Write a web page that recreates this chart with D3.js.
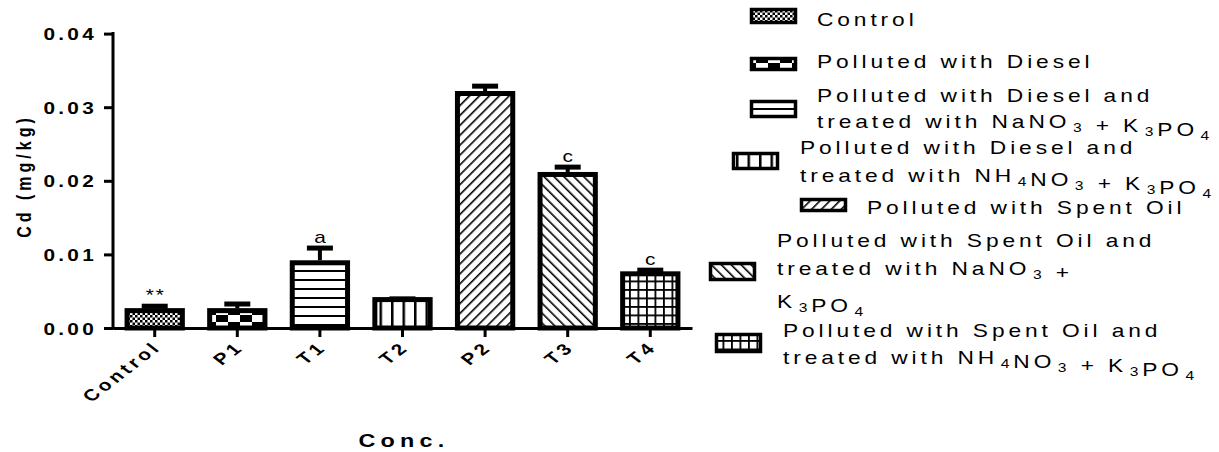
<!DOCTYPE html>
<html>
<head>
<meta charset="utf-8">
<script src="https://cdn.jsdelivr.net/npm/d3@7"></script>
<style>
body { margin: 0; background: #fff; }
text { font-family: "Liberation Sans", Arial, sans-serif; fill: #000; }
</style>
</head>
<body>
<svg id="chart" width="1219" height="452"></svg>
<script>
// data
var categories = ["Control", "P1", "T1", "T2", "P2", "T3", "T4"];
var means = [0.0027, 0.0027, 0.0092, 0.0042, 0.0322, 0.0212, 0.0077];
var errs = [0.0006, 0.0009, 0.0020, 0.0001, 0.0010, 0.0010, 0.0005];
var letters = ["**", "", "a", "", "", "c", "c"];
var yTicks = [0, 0.01, 0.02, 0.03, 0.04];
var patterns = ["pControl", "pP1", "pT1", "pT2", "pP2", "pT3", "pT4"];
// "_n" marks a subscript
var legendText = [
    ["Control"],
    ["Polluted with Diesel"],
    ["Polluted with Diesel and", "treated with NaNO_3 + K_3PO_4"],
    ["Polluted with Diesel and", "treated with NH_4NO_3 + K_3PO_4"],
    ["Polluted with Spent Oil"],
    ["Polluted with Spent Oil and", "treated with NaNO_3 +", "K_3PO_4"],
    ["Polluted with Spent Oil and", "treated with NH_4NO_3 + K_3PO_4"]
];

// legend placement (the exported legend is not regular)
var legendPos = [
    {x: 750, y: 8,   h: 16, tx: 817, base: [26]},
    {x: 750, y: 57,  h: 14, tx: 817, base: [68]},
    {x: 750, y: 100, h: 18, tx: 817, base: [102, 128]},
    {x: 732, y: 152, h: 18, tx: 800, base: [154, 182]},
    {x: 800, y: 198, h: 14, tx: 867, base: [214]},
    {x: 709, y: 262, h: 19, tx: 777, base: [247, 275, 308]},
    {x: 715, y: 333, h: 20, tx: 783, base: [337, 364]}
];

var SX = 1.3; // the original export is stretched sideways

var svg = d3.select('#chart');

var x = d3.scaleBand()
    .domain(categories)
    .range([113, 692])
    .paddingInner(0.27)
    .paddingOuter(0.14);

var y = d3.scaleLinear()
    .domain([0, 0.04])
    .range([328, 33.6]);

// fill patterns
var defs = svg.append('defs');

function pat(id, w, h) {
    var p = defs.append('pattern')
        .attr('id', id)
        .attr('patternUnits', 'userSpaceOnUse')
        .attr('width', w)
        .attr('height', h);
    p.append('rect').attr('width', w).attr('height', h).attr('fill', '#fff');
    return p;
}

function blk(p, bx, by, w, h) {
    p.append('rect').attr('x', bx).attr('y', by).attr('width', w).attr('height', h).attr('fill', '#000');
}

var p = pat('pControl', 5, 5);
blk(p, 0, 0, 2.5, 2.5);
blk(p, 2.5, 2.5, 2.5, 2.5);

p = pat('pP1', 24, 14);
blk(p, 12, 0, 12, 7);
blk(p, 0, 7, 12, 7);

p = pat('pT1', 10, 9);
blk(p, 0, 0, 10, 2);

p = pat('pT2', 11.5, 10);
blk(p, 0, 0, 2.5, 10);

p = pat('pP2', 7, 7).attr('patternTransform', 'rotate(45)');
blk(p, 0, 0, 1.6, 7);

p = pat('pT3', 7, 7).attr('patternTransform', 'rotate(-45)');
blk(p, 0, 0, 1.6, 7);

p = pat('pT4', 8.5, 8.5);
blk(p, 0, 0, 8.5, 1.8);
blk(p, 0, 0, 1.8, 8.5);

// helper for the stretched text
function stretch(tx, ty, rot) {
    return 'translate(' + tx + ',' + ty + ') scale(' + SX + ',1)' + (rot ? ' rotate(' + rot + ')' : '');
}

// bars
var bw = x.bandwidth();
svg.selectAll('rect.bar')
    .data(categories)
    .enter()
    .append('rect')
    .attr('class', 'bar')
    .attr('x', function(d) { return x(d) + 2.5; })
    .attr('y', function(d, i) { return y(means[i]) + 2.5; })
    .attr('width', bw - 5)
    .attr('height', function(d, i) { return y(0) - y(means[i]) - 2.5; })
    .attr('fill', function(d, i) { return 'url(#' + patterns[i] + ')'; })
    .attr('stroke', '#000')
    .attr('stroke-width', 5);

// error bars, upper side only
var eb = svg.selectAll('g.err')
    .data(categories)
    .enter()
    .append('g')
    .attr('class', 'err');

eb.append('line')
    .attr('x1', function(d) { return x(d) + bw / 2; })
    .attr('x2', function(d) { return x(d) + bw / 2; })
    .attr('y1', function(d, i) { return y(means[i]); })
    .attr('y2', function(d, i) { return y(means[i] + errs[i]) + 2; })
    .attr('stroke', '#000')
    .attr('stroke-width', 4);

eb.append('line')
    .attr('x1', function(d) { return x(d) + bw / 2 - 13; })
    .attr('x2', function(d) { return x(d) + bw / 2 + 13; })
    .attr('y1', function(d, i) { return y(means[i] + errs[i]) + 2.5; })
    .attr('y2', function(d, i) { return y(means[i] + errs[i]) + 2.5; })
    .attr('stroke', '#000')
    .attr('stroke-width', 5);

// significance letters
svg.selectAll('text.sig')
    .data(categories)
    .enter()
    .append('text')
    .attr('class', 'sig')
    .attr('text-anchor', 'middle')
    .style('font-size', '16px')
    .style('letter-spacing', '1.5px')
    .attr('transform', function(d, i) {
        return stretch(x(d) + bw / 2 + 1, y(means[i] + errs[i]) - 3);
    })
    .text(function(d, i) { return letters[i]; });

// y axis
var yAxis = svg.append('g')
    .attr('transform', 'translate(113,0)')
    .call(d3.axisLeft(y).tickValues(yTicks).tickFormat(d3.format('.2f')).tickSize(9).tickSizeOuter(0));

yAxis.select('.domain').attr('stroke-width', 3).attr('d', 'M0,' + (y(0) + 1.5) + 'V' + (y(0.04) - 1.5));
yAxis.selectAll('.tick line').attr('stroke-width', 3);
yAxis.selectAll('.tick text')
    .attr('x', null).attr('dy', null)
    .style('font-size', '16px')
    .style('font-weight', 'bold')
    .style('letter-spacing', '2.5px')
    .attr('text-anchor', 'end')
    .attr('transform', 'translate(-16,6) scale(' + SX + ',1)');

// x axis
var xAxis = svg.append('g')
    .attr('transform', 'translate(0,' + y(0) + ')')
    .call(d3.axisBottom(x).tickSize(9).tickSizeOuter(0));

xAxis.select('.domain').attr('stroke-width', 3);
xAxis.selectAll('.tick line').attr('stroke-width', 3);
xAxis.selectAll('.tick text')
    .attr('y', null).attr('dy', null)
    .style('font-size', '16px')
    .style('font-weight', 'bold')
    .style('letter-spacing', '3px')
    .attr('text-anchor', 'end')
    .attr('transform', 'translate(8,20) scale(' + SX + ',1) rotate(-45)');

// axis titles
svg.append('text')
    .attr('text-anchor', 'middle')
    .style('font-size', '16px')
    .style('font-weight', 'bold')
    .style('letter-spacing', '4px')
    .attr('transform', stretch(31, 176, -90))
    .text('Cd  (mg/kg)');

svg.append('text')
    .attr('text-anchor', 'middle')
    .style('font-size', '18px')
    .style('font-weight', 'bold')
    .style('letter-spacing', '4px')
    .attr('transform', stretch(404, 447))
    .text('Conc.');

// legend
var leg = svg.selectAll('g.leg')
    .data(legendText)
    .enter()
    .append('g')
    .attr('class', 'leg');

leg.append('rect')
    .attr('x', function(d, i) { return legendPos[i].x + 1.5; })
    .attr('y', function(d, i) { return legendPos[i].y + 1.5; })
    .attr('width', 44)
    .attr('height', function(d, i) { return legendPos[i].h - 3; })
    .attr('fill', function(d, i) { return 'url(#' + patterns[i] + ')'; })
    .attr('stroke', '#000')
    .attr('stroke-width', 3.5);

leg.each(function(lines, i) {
    var g = d3.select(this);
    var lp = legendPos[i];
    lines.forEach(function(line, j) {
        var t = g.append('text')
            .style('font-size', '17.5px')
            .style('letter-spacing', '3px')
            .attr('transform', stretch(lp.tx, lp.base[j]));
        var parts = line.split(/_(\d)/);
        parts.forEach(function(s, k) {
            if (s === '') return;
            if (k % 2 === 1) {
                t.append('tspan').attr('dx', 2).attr('dy', 4).style('font-size', '12px').text(s);
                t.append('tspan').attr('dy', -4).text('');
            } else {
                t.append('tspan').text(s);
            }
        });
    });
});
</script>
</body>
</html>
